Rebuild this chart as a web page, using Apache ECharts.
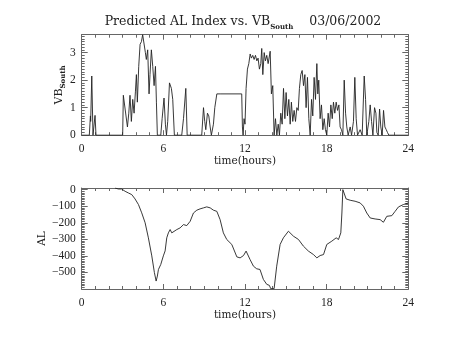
<!DOCTYPE html>
<html>
<head>
<meta charset="utf-8">
<script src="https://cdn.jsdelivr.net/npm/echarts@6/dist/echarts.min.js"></script>
<style>
  html, body { margin: 0; padding: 0; background: #fff; }
  #chart { width: 454px; height: 341px; }
</style>
</head>
<body>
<div id="chart"></div>
<script>
// Southward IMF component (hours UT, value)
const vbHours = [0, 0.56, 0.64, 0.66, 0.74, 0.83, 0.91, 0.98, 1.05, 3.01,
  3.06, 3.19, 3.26, 3.36, 3.46, 3.55, 3.65, 3.75, 3.85, 3.95,
  4.02, 4.09, 4.19, 4.29, 4.39, 4.48, 4.58, 4.68, 4.75, 4.85,
  4.95, 5.02, 5.12, 5.22, 5.32, 5.42, 5.49, 5.56, 5.81, 5.91,
  6.05, 6.15, 6.23, 6.32, 6.45, 6.59, 6.69, 6.81, 7.35, 7.48,
  7.65, 7.75, 8.82, 8.95, 9.04, 9.12, 9.24, 9.34, 9.44, 9.53,
  9.68, 9.78, 9.93, 10.17, 11.76, 11.81, 11.86, 11.93, 12.0, 12.08,
  12.18, 12.28, 12.38, 12.47, 12.57, 12.67, 12.77, 12.87, 12.96, 13.06,
  13.16, 13.23, 13.31, 13.41, 13.5, 13.6, 13.7, 13.85, 13.94, 14.04,
  14.14, 14.24, 14.34, 14.44, 14.53, 14.63, 14.73, 14.83, 14.93, 15.02,
  15.12, 15.22, 15.32, 15.41, 15.51, 15.61, 15.71, 15.81, 15.91, 16.0,
  16.1, 16.2, 16.3, 16.4, 16.49, 16.59, 16.69, 16.79, 16.89, 16.98,
  17.08, 17.18, 17.28, 17.35, 17.42, 17.52, 17.62, 17.72, 17.82, 17.91,
  18.01, 18.11, 18.21, 18.31, 18.41, 18.5, 18.6, 18.7, 18.8, 18.9,
  18.99, 19.09, 19.19, 19.29, 19.39, 19.48, 19.58, 19.73, 19.83, 19.97,
  20.07, 20.17, 20.27, 20.46, 20.61, 20.76, 20.86, 20.95, 21.1, 21.2,
  21.3, 21.4, 21.52, 21.62, 21.69, 21.79, 21.89, 21.98, 22.08, 22.18,
  22.28, 22.38, 22.47, 22.57, 24];
const vbSouth = [0, 0, 0.7, 0.5, 2.15, 0, 0, 0.72, 0, 0,
  1.45, 0.95, 1.0, 0.3, 0.8, 1.45, 0.5, 1.3, 0.8, 1.6,
  2.2, 1.2, 2.5, 3.3, 3.4, 3.65, 3.6, 3.0, 2.75, 3.1,
  1.5, 2.2, 3.1, 2.5, 1.8, 2.5, 1.2, 0, 0, 0.6,
  1.35, 0.4, 0, 0.5, 1.9, 1.7, 1.3, 0, 0, 0.6,
  1.7, 0, 0, 1.0, 0.5, 0.2, 0.8, 0.7, 0.3, 0,
  0.4, 1.0, 1.5, 1.5, 1.5, 0.3, 0, 0.6, 0.4, 1.7,
  2.4, 2.6, 2.95, 2.8, 2.9, 2.75, 2.9, 2.7, 2.8, 2.4,
  2.6, 3.15, 2.2, 3.0, 2.7, 2.9, 2.6, 3.05, 1.5, 1.8,
  0, 0.6, 0, 0.4, 0, 0.8, 0.4, 1.7, 0.6, 1.55,
  0.7, 1.3, 0.4, 1.2, 0.5, 0.9, 0.5, 1.0, 0.9, 1.7,
  2.2, 2.35, 1.8, 2.2, 1.0, 2.1, 0.6, 0, 1.3, 0.7,
  2.1, 1.3, 2.6, 1.5, 2.0, 0.6, 1.1, 0.2, 0.6, 0.2,
  0, 0.8, 0.3, 1.1, 0.6, 1.2, 0.8, 1.2, 0.9, 1.1,
  0.3, 0.2, 0, 2.0, 0.8, 0.3, 0, 0.3, 0, 0.5,
  2.1, 0.6, 0, 0.2, 0, 2.15, 1.3, 0, 0.5, 1.1,
  0.5, 0, 1.0, 0.8, 0.1, 0, 0.95, 0.3, 0, 0.9,
  0.3, 0.2, 0.1, 0, 0];

// Predicted AL index (hours UT, nT)
const alHours = [2.45, 2.7, 2.94, 3.19, 3.43, 3.68, 3.92, 4.17, 4.41, 4.66,
  4.9, 5.15, 5.34, 5.47, 5.56, 5.64, 5.81, 6.0, 6.13, 6.25,
  6.37, 6.5, 6.62, 6.74, 6.99, 7.23, 7.48, 7.72, 7.97, 8.21,
  8.46, 8.7, 8.95, 9.19, 9.44, 9.68, 9.93, 10.17, 10.41, 10.66,
  11.03, 11.4, 11.64, 11.89, 12.08, 12.37, 12.62, 12.86, 13.1, 13.35,
  13.6, 13.79, 13.89, 14.14, 14.33, 14.58, 14.82, 15.19, 15.56, 15.93,
  16.29, 16.66, 17.03, 17.28, 17.52, 17.77, 18.01, 18.38, 18.7, 18.87,
  19.04, 19.12, 19.19, 19.29, 19.43, 19.73, 20.09, 20.46, 20.7, 20.95,
  21.2, 21.56, 21.93, 22.17, 22.42, 22.79, 23.03, 23.28, 23.64, 24];
const alIndex = [10, 4, 4, -10, -20, -30, -56, -90, -140, -200,
  -291, -400, -500, -552, -522, -482, -452, -400, -370, -291,
  -261, -241, -261, -257, -241, -231, -211, -217, -191, -141,
  -124, -116, -110, -104, -110, -124, -131, -181, -261, -301,
  -331, -406, -412, -398, -371, -422, -462, -478, -482, -542,
  -572, -578, -598, -598, -462, -331, -291, -251, -281, -301,
  -341, -371, -392, -412, -398, -392, -331, -311, -291, -301,
  -261, -141, 0, -4, -56, -64, -70, -80, -100, -141,
  -171, -177, -181, -197, -161, -157, -131, -104, -90, -80];

const hourTicks = [0, 6, 12, 18, 24];

const serif = 'DejaVu Serif';
const numFont = 'Liberation Serif';
const ink = '#222';
const axisGrey = '#666';

function pairs(xs, ys) { return xs.map((x, i) => [x, ys[i]]); }
function minusSign(v) { return String(v).replace('-', '\u2212'); }

const chart = echarts.init(document.getElementById('chart'), null, { renderer: 'canvas' });

function xAxisFor(gridIndex, withLabels) {
  return {
    type: 'value', gridIndex: gridIndex, min: 0, max: 24, interval: 6,
    position: withLabels ? 'bottom' : 'top',
    axisLine: { show: true, onZero: false, lineStyle: { color: axisGrey, width: 1 } },
    axisTick: { show: true, inside: true, length: 5, lineStyle: { color: axisGrey } },
    minorTick: { show: true, splitNumber: 6, length: 3, lineStyle: { color: axisGrey } },
    splitLine: { show: false },
    axisLabel: withLabels ? { show: true, margin: 8, fontFamily: numFont, fontSize: 11.5, color: ink,
      formatter: v => hourTicks.includes(v) ? String(v) : '' } : { show: false },
    name: withLabels ? 'time(hours)' : '',
    nameLocation: 'middle', nameGap: 21, nameMoveOverlap: false,
    nameTextStyle: { fontFamily: serif, fontSize: 10.5, color: ink }
  };
}

function yAxisFor(gridIndex, withLabels, range, step, minorSplit, nameOpt) {
  const ax = {
    type: 'value', gridIndex: gridIndex, min: range[0], max: range[1], interval: step,
    position: withLabels ? 'left' : 'right',
    axisLine: { show: true, onZero: false, lineStyle: { color: axisGrey, width: 1 } },
    axisTick: { show: true, inside: true, length: 6, lineStyle: { color: axisGrey } },
    minorTick: { show: true, splitNumber: minorSplit, length: 3, lineStyle: { color: axisGrey } },
    splitLine: { show: false },
    axisLabel: withLabels ? { show: true, margin: 6, fontFamily: numFont, fontSize: 11.5, color: ink,
      showMaxLabel: false, showMinLabel: range[0] === 0, formatter: v => minusSign(v) } : { show: false }
  };
  if (withLabels && nameOpt) Object.assign(ax, nameOpt);
  return ax;
}

chart.setOption({
  animation: false,
  backgroundColor: '#fff',
  title: {
    text: '{a|Predicted AL Index vs. VB}{s|South}{a|    03/06/2002}',
    left: 238, textAlign: 'center', top: 9,
    textStyle: {
      fontWeight: 'normal',
      rich: {
        a: { fontFamily: serif, fontSize: 12.5, fontWeight: 'normal', color: ink, lineHeight: 16 },
        s: { fontFamily: serif, fontSize: 7, color: ink, fontWeight: 'bold', lineHeight: 16, padding: [11, 0, 0, 0] }
      }
    }
  },
  grid: [
    { left: 81.7, right: 45.7, top: 34.7, height: 100.5 },
    { left: 81.7, right: 45.7, top: 188, height: 101 }
  ],
  xAxis: [
    xAxisFor(0, true), xAxisFor(0, false),
    xAxisFor(1, true), xAxisFor(1, false)
  ],
  yAxis: [
    yAxisFor(0, true, [0, 3.65], 1, 10, {
      name: '{v|VB}{s|South}', nameLocation: 'middle', nameGap: 16, nameRotate: 90, nameMoveOverlap: false,
      nameTextStyle: { rich: {
        v: { fontFamily: serif, fontSize: 11, color: ink, lineHeight: 14 },
        s: { fontFamily: serif, fontSize: 7, color: ink, fontWeight: 'bold', lineHeight: 14, padding: [9, 0, 0, 0] }
      } }
    }),
    yAxisFor(0, false, [0, 3.65], 1, 10),
    yAxisFor(1, true, [-600, 10], 100, 10, {
      name: 'AL', nameLocation: 'middle', nameGap: 34, nameRotate: 90, nameMoveOverlap: false,
      nameTextStyle: { fontFamily: serif, fontSize: 10.5, color: ink }
    }),
    yAxisFor(1, false, [-600, 10], 100, 10)
  ],
  series: [
    {
      type: 'line', xAxisIndex: 0, yAxisIndex: 0, data: pairs(vbHours, vbSouth),
      showSymbol: false, symbol: 'none', clip: true,
      lineStyle: { color: '#222', width: 0.9 }
    },
    {
      type: 'line', xAxisIndex: 2, yAxisIndex: 2, data: pairs(alHours, alIndex),
      showSymbol: false, symbol: 'none', clip: true,
      lineStyle: { color: '#222', width: 0.9 }
    }
  ]
});
</script>
</body>
</html>
